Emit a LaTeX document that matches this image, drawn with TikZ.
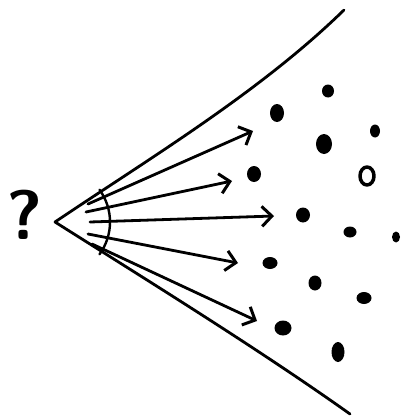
\documentclass[tikz,border=0pt]{standalone}
\usepackage{tikz}
\usetikzlibrary{arrows.meta,shapes.geometric}

\begin{document}
\begin{tikzpicture}[x=1pt, y=-1pt, line width=2.8pt, line cap=round, line join=round,
    blob/.style={ellipse, fill=black, inner sep=0pt},
    ray/.style={-{Straight Barb[length=10pt,width=20pt,line width=3pt]}}]
    \useasboundingbox (0,0) rectangle (401,420);

    \coordinate (apex) at (55,222);
    \coordinate (haut) at (344,10);
    \coordinate (bas) at (350,414);

    % le cone
    \draw (apex) .. controls (150,158) and (260,92) .. (haut);
    \draw (apex) .. controls (150,282) and (260,350) .. (bas);
    \draw[line width=2.4pt] (apex) ++(36:55) arc[start angle=36, end angle=-36, radius=55];

    \node (q) at (25,215) {\fontsize{70}{70}\selectfont\sffamily\bfseries ?};

    \foreach \i/\sx/\sy/\tx/\ty in {1/88/204/253/131, 2/86/212/232/181, 3/90/222/274/216, 4/88/234/238/263, 5/92/244/257/321} {
        \coordinate (s\i) at (\sx,\sy);
        \coordinate (t\i) at (\tx,\ty);
        \draw[ray] (s\i) -- (t\i);
    }

    \foreach \x/\y/\w/\h [count=\n] in {328/91/12/13, 277/113/14/18, 375/131/10/13, 324/144/16/20,
        254/174/14/16, 303/215/14/15, 350/232/13/11, 396/237/8/11, 270/263/15/12,
        315/283/13/15, 364/298/15/12, 283/328/17/15, 338/352/13/20} {
        \node[blob, minimum width=\w pt, minimum height=\h pt] (d\n) at (\x,\y) {};
    }
    \node[ellipse, draw, line width=3.5pt, minimum width=14pt, minimum height=18pt, inner sep=0pt] (ring) at (367,176) {};
\end{tikzpicture}
\end{document}
